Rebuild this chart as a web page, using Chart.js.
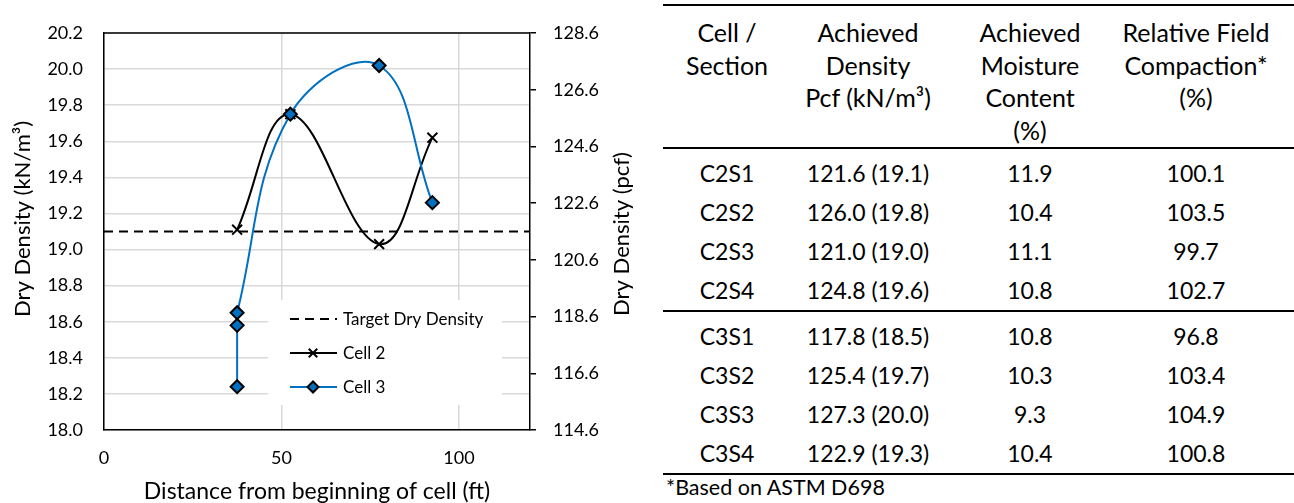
<!DOCTYPE html>
<html>
<head>
<meta charset="utf-8">
<title>Dry density by distance</title>
<script src="https://cdn.jsdelivr.net/npm/chart.js@4.4.0/dist/chart.umd.min.js"></script>
<style>
  body { margin: 0; background: #fff; width: 1294px; height: 503px; overflow: hidden; position: relative; font-family: Lato, sans-serif; color: #000; }
  #chartBox { position: absolute; left: 0; top: 0; width: 650px; height: 503px; }
  #tableBox { position: absolute; left: 663px; top: 4px; }
  table { border-collapse: collapse; }
  th { font-weight: normal; font-size: 25px; vertical-align: top; padding: 10px 0 0 0; line-height: 32.7px; white-space: nowrap; }
  thead tr { border-top: 2px solid #000; border-bottom: 2px solid #000; }
  td { height: 39px; padding: 0; font-size: 23px; text-align: center; white-space: nowrap; }
  tr.first td { padding-top: 5px; }
  tr.split { border-top: 2px solid #000; }
  tr.last { border-bottom: 2px solid #000; }
  .c4 { padding-right: 17px; }
  #note { position: absolute; left: 666px; top: 475px; font-size: 21.5px; line-height: 24px; }
</style>
</head>
<body>
<div id="chartBox"><canvas id="chart"></canvas></div>
<div id="tableBox">
  <table>
    <colgroup>
      <col style="width:128px"><col style="width:154px"><col style="width:170px"><col style="width:179px">
    </colgroup>
    <thead>
      <tr>
        <th>Cell /<br>Section</th>
        <th>Achieved<br>Density<br>Pcf (kN/m³)</th>
        <th>Achieved<br>Moisture<br>Content<br>(%)</th>
        <th class="c4">Relative Field<br>Compaction*<br>(%)</th>
      </tr>
    </thead>
    <tbody id="rows"></tbody>
  </table>
</div>
<div id="note">*Based on ASTM D698</div>

<script>
// distance along the cell (ft) and dry density (kN/m3) for each series
const targetDistance = [0, 120];
const targetDensity = [19.1, 19.1];

const cell2Distance = [37.5, 52.5, 77.5, 92.5];
const cell2Density = [19.11, 19.75, 19.03, 19.62];

const cell3Distance = [37.5, 37.5, 37.5, 52.5, 77.5, 92.5];
const cell3Density = [18.24, 18.58, 18.65, 19.75, 20.02, 19.26];

// axis ranges
const kNRange = [18.0, 20.2];
const pcfRange = [114.6, 128.6];
const distanceRange = [0, 120];

// table columns
const sections = ["C2S1", "C2S2", "C2S3", "C2S4", "C3S1", "C3S2", "C3S3", "C3S4"];
const densityPcf = ["121.6", "126.0", "121.0", "124.8", "117.8", "125.4", "127.3", "122.9"];
const densityKN = ["19.1", "19.8", "19.0", "19.6", "18.5", "19.7", "20.0", "19.3"];
const moisture = ["11.9", "10.4", "11.1", "10.8", "10.8", "10.3", "9.3", "10.4"];
const compaction = ["100.1", "103.5", "99.7", "102.7", "96.8", "103.4", "104.9", "100.8"];

function generateTable() {
    const tbody = document.getElementById("rows");
    for (let i = 0; i < sections.length; i++) {
        const row = document.createElement("tr");
        const classes = [];
        if (i % 4 === 0) classes.push("first");
        if (i === 4) classes.push("split");
        if (i === sections.length - 1) classes.push("last");
        row.className = classes.join(" ");
        row.innerHTML = `
            <td>${sections[i]}</td>
            <td>${densityPcf[i]} (${densityKN[i]})</td>
            <td>${moisture[i]}</td>
            <td class="c4">${compaction[i]}</td>
        `;
        tbody.appendChild(row);
    }
}

function points(xs, ys) {
    return xs.map((x, i) => ({ x: x, y: ys[i] }));
}

// legend box drawn inside the plot area, under the lines
const insideLegend = {
    id: "insideLegend",
    beforeDatasetsDraw(chart) {
        const ctx = chart.ctx;
        const area = chart.chartArea;
        const left = area.left + 164;
        const top = area.top + 267;
        ctx.save();
        ctx.fillStyle = "#fff";
        ctx.fillRect(left, top, 234, 105);
        ctx.font = "17px Lato";
        ctx.textBaseline = "middle";
        chart.data.datasets.forEach((ds, i) => {
            const y = top + 19 + i * 34;
            ctx.strokeStyle = ds.borderColor;
            ctx.lineWidth = ds.borderWidth;
            ctx.setLineDash(ds.borderDash || []);
            ctx.beginPath();
            ctx.moveTo(left + 22, y);
            ctx.lineTo(left + 69, y);
            ctx.stroke();
            ctx.setLineDash([]);
            if (ds.pointRadius > 0) {
                ctx.fillStyle = ds.pointBackgroundColor || ds.borderColor;
                ctx.strokeStyle = ds.pointBorderColor;
                ctx.lineWidth = ds.pointBorderWidth;
                Chart.helpers.drawPoint(ctx, {
                    pointStyle: ds.pointStyle,
                    radius: ds.pointRadius - 1,
                    borderWidth: ds.pointBorderWidth,
                    rotation: 0
                }, left + 45, y);
            }
            ctx.fillStyle = "#000";
            ctx.fillText(ds.label, left + 75, y + 1);
        });
        ctx.restore();
    }
};

// black top edge of the plot and the two vertical axis titles
const frameAndTitles = {
    id: "frameAndTitles",
    afterDraw(chart) {
        const ctx = chart.ctx;
        const area = chart.chartArea;
        ctx.save();
        ctx.strokeStyle = "#000";
        ctx.lineWidth = 1.5;
        ctx.beginPath();
        ctx.moveTo(area.left, area.top);
        ctx.lineTo(area.right, area.top);
        ctx.stroke();

        ctx.fillStyle = "#000";
        ctx.font = "22px Lato";
        ctx.textAlign = "center";
        ctx.textBaseline = "middle";

        ctx.translate(23, 219);
        ctx.rotate(-Math.PI / 2);
        ctx.fillText("Dry Density (kN/m³)", 0, 0);
        ctx.restore();

        ctx.save();
        ctx.fillStyle = "#000";
        ctx.font = "22px Lato";
        ctx.textAlign = "center";
        ctx.textBaseline = "middle";
        ctx.translate(622, 234);
        ctx.rotate(-Math.PI / 2);
        ctx.fillText("Dry Density (pcf)", 0, 0);
        ctx.restore();
    }
};

function createChart() {
    const ctx = document.getElementById("chart").getContext("2d");
    Chart.defaults.font.family = "Lato";
    Chart.defaults.font.size = 18;
    Chart.defaults.color = "#000";

    new Chart(ctx, {
        type: "scatter",
        data: {
            datasets: [
                {
                    label: "Target Dry Density",
                    data: points(targetDistance, targetDensity),
                    showLine: true,
                    borderColor: "#000",
                    borderWidth: 2,
                    borderDash: [9, 6],
                    pointRadius: 0,
                    order: 3
                },
                {
                    label: "Cell 2",
                    data: points(cell2Distance, cell2Density),
                    showLine: true,
                    tension: 0.4,
                    borderColor: "#000",
                    borderWidth: 2,
                    pointStyle: "crossRot",
                    pointRadius: 7,
                    pointBorderColor: "#000",
                    pointBorderWidth: 2,
                    order: 2
                },
                {
                    label: "Cell 3",
                    data: points(cell3Distance, cell3Density),
                    showLine: true,
                    tension: 0.4,
                    borderColor: "#0070C0",
                    borderWidth: 2,
                    pointStyle: "rectRot",
                    pointRadius: 6.5,
                    pointBackgroundColor: "#0070C0",
                    pointBorderColor: "#000",
                    pointBorderWidth: 2,
                    order: 1
                }
            ]
        },
        options: {
            responsive: true,
            maintainAspectRatio: false,
            animation: false,
            layout: { padding: { top: 33, left: 0, right: 0, bottom: 0 } },
            plugins: {
                legend: { display: false },
                tooltip: { enabled: false }
            },
            scales: {
                x: {
                    type: "linear",
                    min: distanceRange[0],
                    max: distanceRange[1],
                    ticks: { stepSize: 50, includeBounds: false, padding: 17 },
                    grid: { color: "#d9d9d9", lineWidth: 1.5, drawTicks: false },
                    border: { color: "#000", width: 1.5 },
                    title: {
                        display: true,
                        text: "Distance from beginning of cell (ft)",
                        font: { size: 23, lineHeight: 1 },
                        padding: 0
                    },
                    afterFit: (scale) => { scale.height = 73; }
                },
                y: {
                    position: "left",
                    min: kNRange[0],
                    max: kNRange[1],
                    ticks: { stepSize: 0.2, padding: 21, callback: (v) => v.toFixed(1) },
                    grid: { color: "#d9d9d9", lineWidth: 1.5, drawTicks: false },
                    border: { color: "#000", width: 1.5 },
                    afterFit: (scale) => { scale.width = 104; }
                },
                y2: {
                    position: "right",
                    min: pcfRange[0],
                    max: pcfRange[1],
                    ticks: { stepSize: 2, padding: 17, callback: (v) => v.toFixed(1) },
                    grid: { drawOnChartArea: false, color: "#000", lineWidth: 1.5, tickLength: 6 },
                    border: { color: "#000", width: 1.5 },
                    afterFit: (scale) => { scale.width = 120; }
                }
            }
        },
        plugins: [insideLegend, frameAndTitles]
    });
}

generateTable();
createChart();
</script>
</body>
</html>
